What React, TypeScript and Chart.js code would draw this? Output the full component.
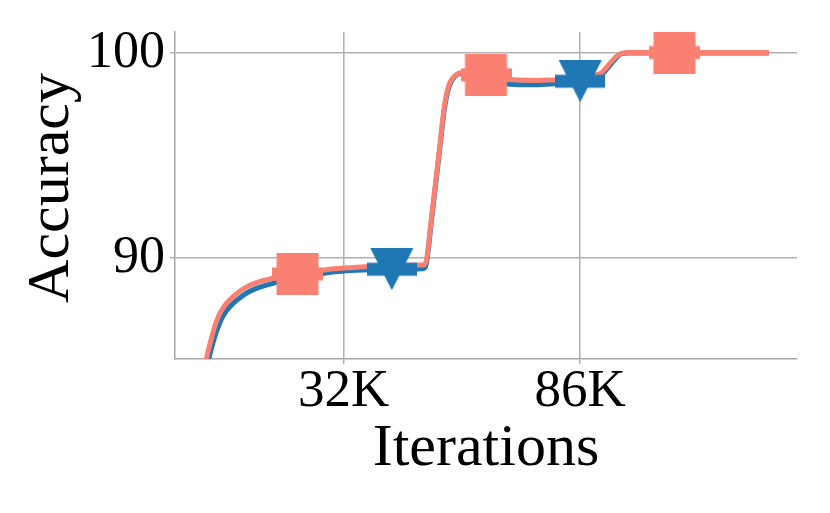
import React, { useEffect, useRef } from 'react';
import { Chart, registerables } from 'chart.js';

Chart.register(...registerables);

// Iterations, in thousands
const iterationsK = [
  0, 1, 2, 3, 4, 5, 6, 7, 8, 10, 12, 14, 17, 21.5, 25, 30, 35, 40, 43, 47, 50, 50.5, 51, 52, 53, 54, 55, 56, 57, 58, 59,
  60, 62, 64.5, 68, 72, 76, 80, 83, 86, 88, 90, 91, 92, 93, 94, 95, 96, 97, 100, 107.5, 115, 122, 129,
];

const blueAccuracy = [
  83.9, 84.85, 85.7, 86.4, 86.95, 87.33, 87.6, 87.82, 88.0, 88.3, 88.5, 88.65, 88.82, 89.0, 89.15, 89.32, 89.4, 89.43,
  89.45, 89.45, 89.47, 89.5, 89.85, 91.7, 93.55, 95.4, 97.25, 98.3, 98.75, 98.95, 99.0,
  99.0, 98.95, 98.75, 98.52, 98.45, 98.45, 98.5, 98.55, 98.62, 98.7, 98.88, 98.95, 99.2, 99.45, 99.7, 99.92, 99.98, 100.0,
  100.0, 100.0, 100.0, 100.0, 100.0,
];

const salmonAccuracy = [
  84.4, 85.35, 86.2, 86.9, 87.38, 87.71, 87.95, 88.15, 88.33, 88.6, 88.78, 88.91, 89.05, 89.22, 89.33, 89.47, 89.55, 89.6,
  89.62, 89.64, 89.66, 89.68, 90.0, 91.85, 93.7, 95.55, 97.4, 98.4, 98.8, 98.98, 99.05,
  99.05, 99.0, 98.93, 98.74, 98.68, 98.66, 98.68, 98.7, 98.72, 98.8, 98.95, 99.05, 99.3, 99.55, 99.78, 99.93, 100.0, 100.02,
  100.02, 100.02, 100.02, 100.02, 100.02,
];

const blueMarkerIters = [43, 86];
const salmonMarkerIters = [21.5, 64.5, 107.5];

const xTickValues = [32, 86];
const yTickValues = [90, 100];
const xLabel = 'Iterations';
const yLabel = ' Accuracy';

const BLUE = '#1f77b4';
const SALMON = '#fa8072';
const FONT = "'Liberation Serif', 'Times New Roman', serif";

function makeSquare(color: string) {
  const c = document.createElement('canvas');
  c.width = 51;
  c.height = 42;
  const g = c.getContext('2d')!;
  g.fillStyle = color;
  g.fillRect(4.5, 0, 42, 42);
  g.fillRect(0, 14.5, 51, 13);
  return c;
}

function makeTriangleDown(color: string) {
  const c = document.createElement('canvas');
  c.width = 50;
  c.height = 42;
  const g = c.getContext('2d')!;
  g.fillStyle = color;
  g.beginPath();
  g.moveTo(3.5, 0);
  g.lineTo(46.5, 0);
  g.lineTo(25, 42);
  g.closePath();
  g.fill();
  g.fillRect(0, 14.5, 50, 13);
  return c;
}

function series(ys: number[]) {
  return iterationsK.map((x, i) => ({ x, y: ys[i] }));
}

function markers(iters: number[], ys: number[]) {
  return iters.map((it) => {
    const i = iterationsK.indexOf(it);
    return { x: iterationsK[i], y: ys[i] };
  });
}

export default function App() {
  const ref = useRef<HTMLCanvasElement | null>(null);

  useEffect(() => {
    if (!ref.current) return;
    const square = makeSquare(SALMON);
    const tri = makeTriangleDown(BLUE);
    const gridColor = '#b0b0b0';
    const chart = new Chart(ref.current, {
      type: 'line',
      data: {
        datasets: [
          {
            data: series(blueAccuracy),
            borderColor: BLUE,
            borderWidth: 5,
            pointRadius: 0,
            cubicInterpolationMode: 'monotone',
            order: 4,
          },
          {
            data: series(salmonAccuracy),
            borderColor: SALMON,
            borderWidth: 5,
            pointRadius: 0,
            cubicInterpolationMode: 'monotone',
            order: 3,
          },
          {
            data: markers(blueMarkerIters, blueAccuracy),
            showLine: false,
            pointStyle: tri as any,
            pointRadius: 20,
            order: 2,
          },
          {
            data: markers(salmonMarkerIters, salmonAccuracy),
            showLine: false,
            pointStyle: square as any,
            pointRadius: 20,
            order: 1,
          },
        ],
      },
      options: {
        animation: false,
        responsive: false,
        devicePixelRatio: 1,
        layout: { padding: { left: 0, right: 33, top: 32, bottom: 0 } },
        plugins: { legend: { display: false }, tooltip: { enabled: false } },
        scales: {
          x: {
            type: 'linear',
            min: -6.45,
            max: 135.45,
            afterBuildTicks: (s: any) => {
              s.ticks = xTickValues.map((v) => ({ value: v }));
            },
            afterFit: (s: any) => {
              s.height = 154;
            },
            ticks: {
              callback: (v: any) => `${v}K`,
              font: { family: FONT, size: 53, lineHeight: 1 },
              color: '#000',
              padding: 2,
              maxRotation: 0,
              autoSkip: false,
            },
            grid: { color: gridColor, lineWidth: 1.5, tickLength: 5, drawTicks: true },
            border: { color: '#a8a8a8', width: 1.5 },
            title: {
              display: true,
              text: xLabel,
              color: '#000',
              font: { family: FONT, size: 60, lineHeight: 1 },
              padding: { top: 0, bottom: 34 },
            },
          },
          y: {
            type: 'linear',
            min: 85.07,
            max: 101.02,
            afterBuildTicks: (s: any) => {
              s.ticks = yTickValues.map((v) => ({ value: v }));
            },
            afterFit: (s: any) => {
              s.width = 175;
            },
            ticks: {
              font: { family: FONT, size: 52, lineHeight: 0.8 },
              color: '#000',
              padding: 5,
            },
            grid: { color: gridColor, lineWidth: 1.5, tickLength: 5, drawTicks: true },
            border: { color: '#a8a8a8', width: 1.5 },
            title: {
              display: true,
              text: yLabel,
              color: '#000',
              font: { family: FONT, size: 60, lineHeight: 1 },
              padding: { top: 22.5, bottom: 0 },
            },
          },
        },
      },
    });
    return () => chart.destroy();
  }, []);

  return (
    <div style={{ position: 'absolute', left: 0, top: 0, width: 830, height: 513, background: '#fff' }}>
      <canvas ref={ref} width={830} height={513} />
    </div>
  );
}
